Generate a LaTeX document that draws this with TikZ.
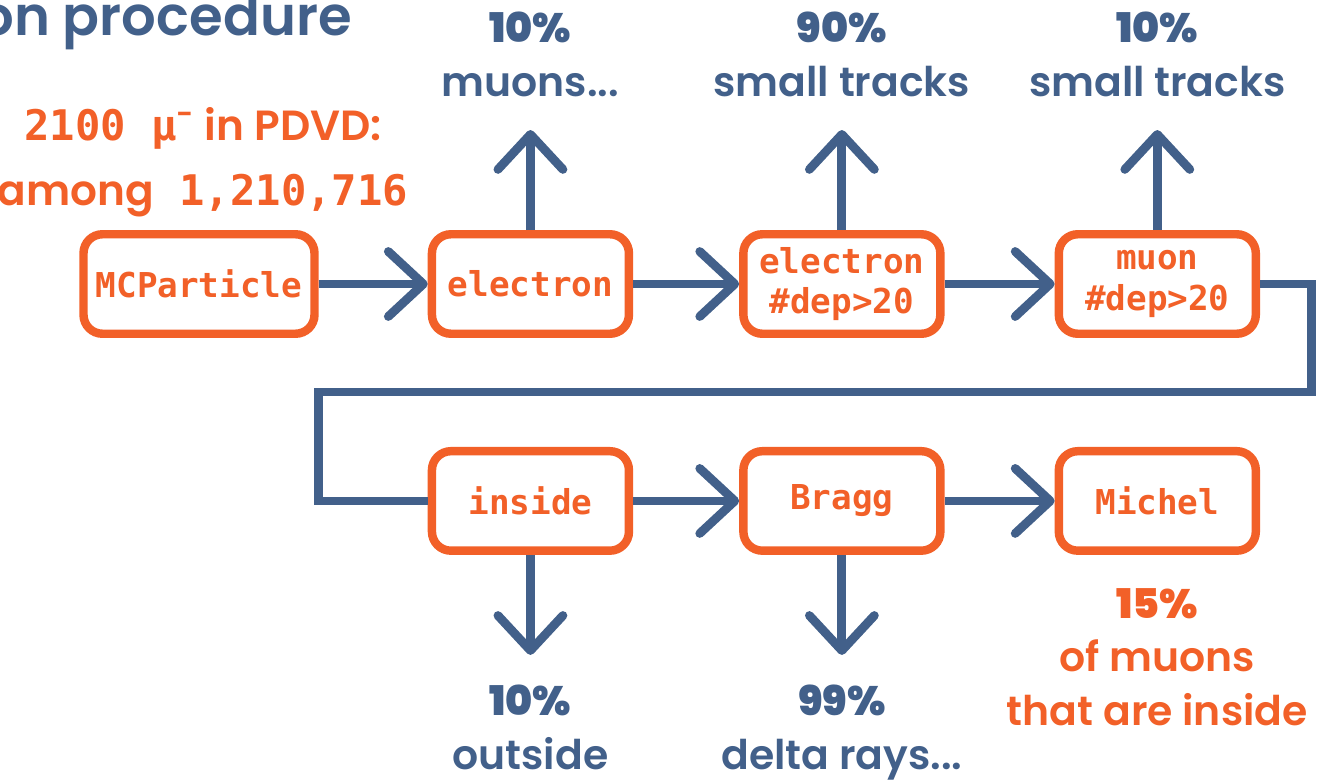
\documentclass[tikz,border=0pt]{standalone}
\usepackage{fontspec}
\setmainfont{Poppins}[BoldFont={Poppins SemiBold}]
\newfontfamily\heavy{Poppins Bold}
\setmonofont{DejaVu Sans Mono}
\usetikzlibrary{arrows.meta, positioning}
\definecolor{selorange}{RGB}{242,96,40}
\definecolor{selblue}{RGB}{66,96,138}
\tikzset{
  stage/.style={rectangle, draw=selorange, line width=4.8pt, fill=white,
    rounded corners=0.38cm, minimum width=3.94cm, minimum height=1.99cm,
    text=selorange, align=center, inner sep=2pt,
    font=\fontsize{19.5}{23}\selectfont\ttfamily\bfseries},
  stageW/.style={stage, minimum width=4.62cm},
  flow/.style={draw=selblue, line width=5pt},
  arr/.style={flow, -{Straight Barb[length=0.7cm, width=1.3cm, round]}},
  frac/.style={text=selblue, align=center, inner sep=0pt,
    font=\fontsize{23.3}{30.6}\selectfont\bfseries},
  fracO/.style={frac, text=selorange},
}

\begin{document}
\begin{tikzpicture}
  \useasboundingbox (0,0) rectangle (26.48,-15.62);

  % ---- Heading and muon count ----
  \node[anchor=base east, inner sep=0pt, text=selblue,
        font=\fontsize{31}{34}\selectfont\bfseries] (title) at (7.04,-0.72) {on procedure};
  \node[frac, text=selorange, font=\fontsize{24}{36.8}\selectfont\bfseries] (count)
       at (4.06,-3.24)
       {{\ttfamily 2100 μ}\textsuperscript{-} in PDVD:\\among{\ttfamily\ 1,210,716}};

  % ---- Top row ----
  \node[stageW] (mcp) at (3.98,-5.68) {MCParticle};
  \node[stage, right=2.18cm of mcp]  (elec)  {electron};
  \node[stage, right=2.12cm of elec] (elecd) {electron\\\#dep>20};
  \node[stage, right=2.20cm of elecd] (muon) {muon\\\#dep>20};

  % ---- Bottom row ----
  \node[stage, below=2.18cm of elec]   (inside) {inside};
  \node[stage, right=2.12cm of inside] (bragg)  {Bragg};
  \node[stage, right=2.20cm of bragg]  (michel) {Michel};

  % ---- Rejected fractions ----
  \coordinate[above=2.0cm of elec]  (t1);
  \coordinate[above=2.0cm of elecd] (t2);
  \coordinate[above=2.0cm of muon]  (t3);
  \coordinate[below=2.0cm of inside] (b1);
  \coordinate[below=2.0cm of bragg]  (b2);

  \node[frac, above=0.66cm of t1] (f1) {{\heavy 10\%}\\muons...};
  \node[frac, above=0.66cm of t2] (f2) {{\heavy 90\%}\\small tracks};
  \node[frac, above=0.66cm of t3] (f3) {{\heavy 10\%}\\small tracks};
  \node[frac, below=0.59cm of b1] (f4) {{\heavy 10\%}\\outside};
  \node[frac, below=0.59cm of b2] (f5) {{\heavy 99\%}\\delta rays...};
  \node[fracO, below=0.66cm of michel] (f6) {{\heavy 15\%}\\of muons\\that are inside};

  % ---- Arrows ----
  \draw[arr] (mcp)   -- (elec);
  \draw[arr] (elec)  -- (elecd);
  \draw[arr] (elecd) -- (muon);
  \draw[flow] (muon.east) -- ++(1.03,0) -- ++(0,-2.16) -- ++(-19.86,0) |- (inside.west);
  \draw[arr] (inside) -- (bragg);
  \draw[arr] (bragg)  -- (michel);

  \draw[arr] (elec)   -- (t1);
  \draw[arr] (elecd)  -- (t2);
  \draw[arr] (muon)   -- (t3);
  \draw[arr] (inside) -- (b1);
  \draw[arr] (bragg)  -- (b2);
\end{tikzpicture}
\end{document}
